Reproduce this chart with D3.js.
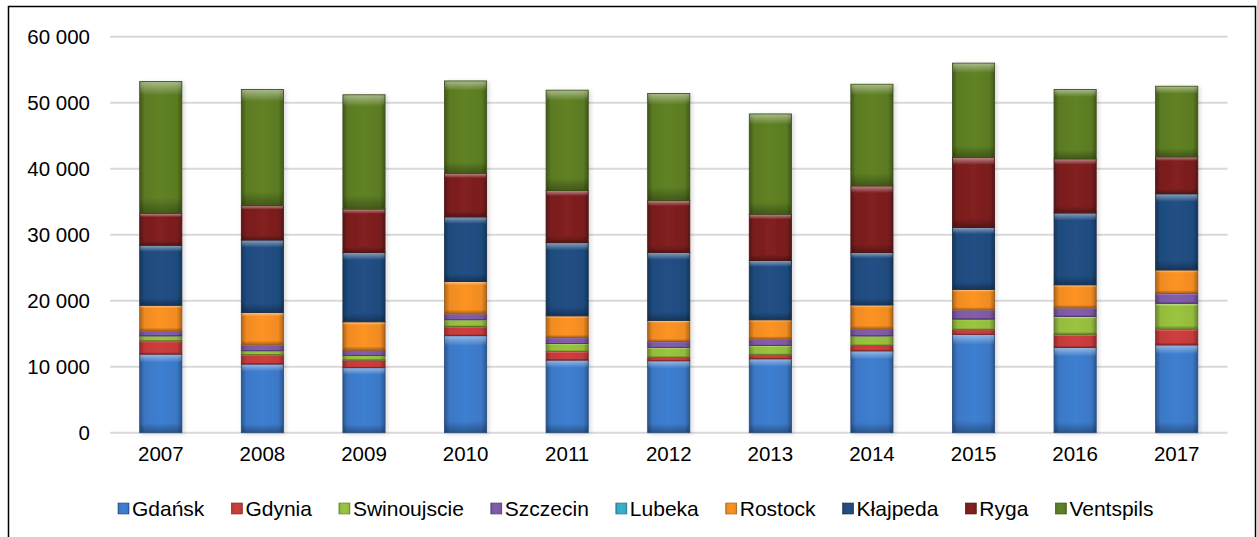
<!DOCTYPE html>
<html><head><meta charset="utf-8">
<script src="https://cdn.jsdelivr.net/npm/d3@7"></script>
<style>body{margin:0;background:#fff}svg{display:block}text{font-family:"Liberation Sans",Arial,sans-serif;fill:#000}</style>
</head><body><svg id="c" width="1257" height="537"></svg>
<script>
const years = ["2007","2008","2009","2010","2011","2012","2013","2014","2015","2016","2017"];
const seriesNames = ["Gdańsk","Gdynia","Swinoujscie","Szczecin","Lubeka","Rostock","Kłajpeda","Ryga","Ventspils"];
const gdansk      = [11900,10400, 9850,14700,11000,10900,11200,12400,14900,12900,13300];
const gdynia      = [ 2000, 1400, 1150, 1400, 1300,  500,  600,  800,  700, 2000, 2400];
const swinoujscie = [  750,  600,  700, 1000, 1200, 1500, 1400, 1450, 1600, 2700, 3900];
const szczecin    = [  750,  900,  800,  900,  900,  900, 1000, 1050, 1400, 1300, 1500];
const lubeka      = [    0,    0,    0,    0,    0,    0,    0,    0,    0,    0,    0];
const rostock     = [ 3900, 4900, 4300, 4900, 3300, 3200, 2900, 3650, 3100, 3500, 3550];
const klajpeda    = [ 9100,11000,10500, 9800,11100,10300, 9000, 7950, 9400,10900,11550];
const ryga        = [ 4800, 5200, 6600, 6600, 7900, 7900, 7000,10100,10600, 8200, 5600];
const ventspils   = [20000,17600,17300,14000,15200,16200,15200,15400,14300,10500,10700];
const yTicks = [0,10000,20000,30000,40000,50000,60000];
const colors = ["#3b78c6","#c43a3a","#93bb3c","#7c59a4","#35a9c4","#f08b22","#1f4b7e","#7a1e1e","#5b7b23"];

const values = [gdansk,gdynia,swinoujscie,szczecin,lubeka,rostock,klajpeda,ryga,ventspils];
const table = years.map((y,i)=>{const o={year:y};seriesNames.forEach((s,k)=>o[s]=values[k][i]);return o;});
const stacked = d3.stack().keys(seriesNames)(table);

const svg = d3.select("#c");
const defs = svg.append("defs");
const fmt = v => d3.format(",")(v).replace(/,/g," ");

colors.forEach((c,i)=>{
  const g = defs.append("linearGradient").attr("id","g"+i).attr("x1","0").attr("x2","1").attr("y1","0").attr("y2","0");
  const dk = d3.color(c).darker(0.9), lt = d3.color(c).brighter(0.15);
  g.append("stop").attr("offset","0%").attr("stop-color",dk);
  g.append("stop").attr("offset","12%").attr("stop-color",c);
  g.append("stop").attr("offset","50%").attr("stop-color",lt);
  g.append("stop").attr("offset","88%").attr("stop-color",c);
  g.append("stop").attr("offset","100%").attr("stop-color",dk);
});
const ov = defs.append("linearGradient").attr("id","ov").attr("x1","0").attr("x2","0").attr("y1","0").attr("y2","1");
ov.append("stop").attr("offset","0%").attr("stop-color","#fff").attr("stop-opacity",0.45);
ov.append("stop").attr("offset","10%").attr("stop-color","#fff").attr("stop-opacity",0.0);
ov.append("stop").attr("offset","88%").attr("stop-color","#000").attr("stop-opacity",0.0);
ov.append("stop").attr("offset","100%").attr("stop-color","#000").attr("stop-opacity",0.3);
const f = defs.append("filter").attr("id","sh").attr("x","-20%").attr("y","-5%").attr("width","150%").attr("height","115%");
f.append("feDropShadow").attr("dx",2).attr("dy",1).attr("stdDeviation",2).attr("flood-color","#000").attr("flood-opacity",0.15);

svg.append("rect").attr("x",8.5).attr("y",6.5).attr("width",1247).attr("height",560)
  .attr("fill","#fff").attr("stroke","#000").attr("stroke-width",1.5);

const x = d3.scaleBand().domain(years).range([110,1227.5]).paddingInner(0.585).paddingOuter(0.2925);
const y = d3.scaleLinear().domain([0,60000]).range([432.7,36.7]);

svg.append("g").selectAll("line").data(yTicks).join("line")
  .attr("x1",110).attr("x2",1227.5).attr("y1",d=>y(d)).attr("y2",d=>y(d))
  .attr("stroke","#d9d9d9").attr("stroke-width",2);

const yAxis = svg.append("g").attr("transform","translate(90,0)")
  .call(d3.axisLeft(y).tickValues(yTicks).tickFormat(fmt).tickSize(0).tickPadding(0));
yAxis.select(".domain").remove();
yAxis.selectAll("text").attr("font-size",20.5).attr("font-family","Liberation Sans, Arial, sans-serif").attr("fill","#000");

const xAxis = svg.append("g").attr("transform","translate(0,446)")
  .call(d3.axisBottom(x).tickSize(0).tickPadding(0));
xAxis.select(".domain").remove();
xAxis.selectAll("text").attr("font-size",20.5).attr("dy","0.72em").attr("font-family","Liberation Sans, Arial, sans-serif").attr("fill","#000");

const bars = svg.append("g").attr("filter","url(#sh)");
stacked.forEach((s,i)=>{
  const gg = bars.append("g");
  gg.selectAll("rect.b").data(s.filter(d=>d[1]-d[0]>0)).join("rect").attr("class","b")
    .attr("x",d=>x(d.data.year)).attr("width",x.bandwidth())
    .attr("y",d=>y(d[1])).attr("height",d=>y(d[0])-y(d[1]))
    .attr("fill","url(#g"+i+")").attr("stroke",d3.color(colors[i]).darker(1.4)).attr("stroke-width",0.8);
  gg.selectAll("rect.o").data(s.filter(d=>d[1]-d[0]>0)).join("rect").attr("class","o")
    .attr("x",d=>x(d.data.year)+0.5).attr("width",x.bandwidth()-1)
    .attr("y",d=>y(d[1])+0.5).attr("height",d=>Math.max(0,y(d[0])-y(d[1])-1))
    .attr("fill","url(#ov)");
});

const leg = svg.append("g");
let lx = 118;
seriesNames.forEach((n,i)=>{
  const it = leg.append("g");
  it.append("rect").attr("x",lx).attr("y",503).attr("width",11).attr("height",11)
    .attr("fill","url(#g"+i+")").attr("stroke",d3.color(colors[i]).darker(1.2)).attr("stroke-width",0.6);
  const t = it.append("text").attr("x",lx+14).attr("y",508.5).attr("dy","0.36em")
    .attr("font-size",21).text(n);
  lx += 14 + t.node().getComputedTextLength() + 27;
});
</script></body></html>
